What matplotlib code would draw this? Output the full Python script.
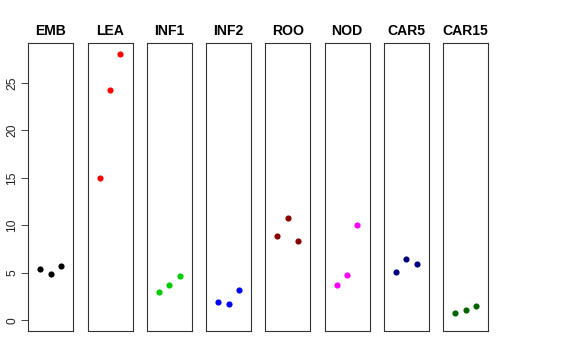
import numpy as np
import matplotlib
matplotlib.use("Agg")
import matplotlib.pyplot as plt

plt.rcParams["font.family"] = ["Liberation Sans", "DejaVu Sans"]

# one panel per tissue, three replicates each
tissues = ["EMB", "LEA", "INF1", "INF2", "ROO", "NOD", "CAR5", "CAR15"]
colors = ["black", "red", "#00CD00", "blue", "#8B0000", "magenta", "#000080", "#006400"]
emb = [5.41, 4.88, 5.75]
lea = [14.98, 24.27, 28.09]
inf1 = [2.99, 3.75, 4.70]
inf2 = [1.89, 1.72, 3.20]
roo = [8.84, 10.73, 8.31]
nod = [3.72, 4.81, 10.03]
car5 = [5.09, 6.49, 5.93]
car15 = [0.74, 1.09, 1.55]
values = [emb, lea, inf1, inf2, roo, nod, car5, car15]
yticks = [0, 5, 10, 15, 20, 25]

ymax = max(max(v) for v in values)
ylo, yhi = 0 - 0.04 * ymax, ymax * 1.04

fig = plt.figure(figsize=(8, 5), dpi=72)
W, H = 576, 360
left0, pitch, pw = 28.3, 59.25, 45
top, bottom = 43, 331

for i, (name, col, vals) in enumerate(zip(tissues, colors, values)):
    ax = fig.add_axes([(left0 + i * pitch) / W, (H - bottom) / H, pw / W, (bottom - top) / H])
    ax.scatter([1, 2, 3], vals, s=38, color=col, linewidths=0, zorder=3)
    ax.set_xlim(-0.16, 4.16)
    ax.set_ylim(ylo, yhi)
    ax.set_xticks([])
    for s in ax.spines.values():
        s.set_color("#333333")
        s.set_linewidth(1.1)
    ax.set_title(name, fontsize=14, fontweight="bold", pad=8)
    if i == 0:
        ax.set_yticks(yticks)
        ax.set_yticklabels([str(t) for t in yticks], rotation=90, va="center", fontsize=12, color="#222222")
        ax.tick_params(axis="y", length=7, width=0.9, color="#333333", pad=3)
    else:
        ax.set_yticks([])

fig.savefig("out.png", dpi=72)
